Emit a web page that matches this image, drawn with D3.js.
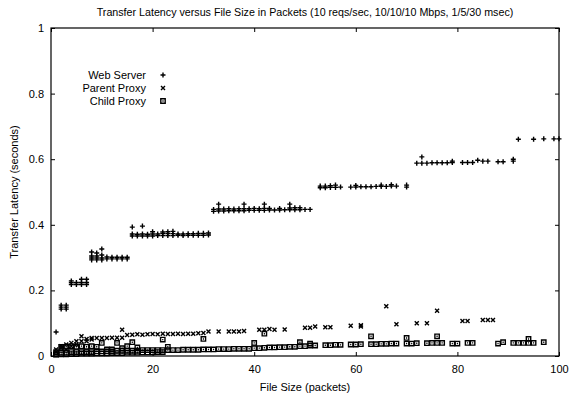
<!DOCTYPE html>
<html>
<head>
<meta charset="utf-8">
<script src="https://cdn.jsdelivr.net/npm/d3@7"></script>
<style>
  body { margin: 0; background: #fff; }
  text { font-family: "Liberation Sans", Arial, Helvetica, sans-serif; font-size: 11px; fill: #000; }
</style>
</head>
<body>
<div id="container"></div>
<script>
// values: [file size (packets), latency (s)]
var webServer = [
  [1,0.073],
  [2,0.143],[2,0.149],[2,0.155],[3,0.143],[3,0.149],[3,0.155],
  [4,0.218],[4,0.224],[4,0.229],[5,0.218],[5,0.224],[6,0.218],[6,0.224],[6,0.234],[7,0.218],[7,0.224],[7,0.234],
  [8,0.293],[8,0.299],[8,0.305],[8,0.317],[9,0.293],[9,0.299],[9,0.305],[9,0.314],
  [10,0.293],[10,0.299],[10,0.308],[10,0.326],[11,0.296],[11,0.302],[12,0.296],[12,0.301],
  [13,0.296],[13,0.301],[14,0.296],[14,0.301],[15,0.296],[15,0.301],
  [16,0.366],[16,0.372],[16,0.393],[17,0.366],[17,0.371],[18,0.366],[18,0.372],[18,0.396],
  [19,0.366],[19,0.371],[20,0.366],[20,0.372],[20,0.379],[21,0.367],[21,0.372],
  [22,0.367],[22,0.373],[22,0.378],[23,0.367],[23,0.373],[23,0.379],[24,0.367],[24,0.373],[24,0.38],
  [25,0.368],[25,0.372],[26,0.367],[26,0.372],[27,0.368],[27,0.373],[28,0.368],[28,0.373],
  [29,0.368],[29,0.374],[30,0.368],[30,0.374],[31,0.369],[31,0.375],
  [32,0.441],[32,0.447],[33,0.442],[33,0.448],[33,0.463],[34,0.442],[34,0.448],[35,0.443],[35,0.449],
  [36,0.443],[36,0.448],[37,0.443],[37,0.449],[38,0.443],[38,0.449],[38,0.463],[39,0.444],[39,0.449],
  [40,0.444],[40,0.45],[41,0.444],[41,0.449],[42,0.444],[42,0.45],[42,0.463],[43,0.445],[43,0.45],
  [44,0.445],[45,0.445],[45,0.45],[46,0.446],[47,0.446],[47,0.451],[47,0.463],
  [48,0.446],[48,0.452],[49,0.446],[49,0.452],[50,0.447],[51,0.447],
  [53,0.513],[53,0.518],[54,0.513],[54,0.518],[55,0.514],[55,0.519],[56,0.514],[56,0.521],[57,0.515],
  [59,0.515],[60,0.515],[60,0.52],[61,0.516],[62,0.516],[63,0.516],[64,0.517],[65,0.517],[65,0.521],
  [66,0.517],[67,0.518],[67,0.522],[68,0.518],[70,0.515],[70,0.521],
  [72,0.588],[73,0.588],[73,0.607],[74,0.588],[75,0.589],[76,0.589],[77,0.589],[78,0.589],[79,0.59],[79,0.594],
  [81,0.59],[82,0.59],[83,0.59],[84,0.597],[85,0.594],[86,0.594],[88,0.592],[89,0.592],
  [91,0.594],[91,0.6],
  [92,0.661],[95,0.661],[97,0.662],[99,0.662],[100,0.662]
];

var parentProxy = [
  [1,0.012],[1,0.02],[2,0.025],[2,0.03],[3,0.035],[3,0.02],[4,0.04],[4,0.03],[5,0.045],[5,0.035],
  [6,0.06],[6,0.045],[7,0.052],[7,0.045],[8,0.055],[8,0.05],[9,0.055],[10,0.055],[11,0.055],
  [12,0.056],[13,0.056],[14,0.08],[14,0.056],[15,0.064],[16,0.065],[17,0.066],[18,0.065],
  [19,0.066],[20,0.067],[21,0.066],[22,0.068],[23,0.067],[24,0.067],[25,0.068],[26,0.067],
  [27,0.068],[28,0.068],[29,0.069],[30,0.07],[31,0.075],[33,0.075],[35,0.075],[36,0.075],
  [37,0.075],[38,0.076],[41,0.08],[42,0.08],[43,0.082],[44,0.08],[46,0.081],
  [50,0.086],[51,0.086],[52,0.09],[54,0.088],[55,0.088],[59,0.092],[61,0.094],[61,0.09],
  [66,0.152],[68,0.097],[72,0.1],[74,0.1],[76,0.138],[81,0.107],[82,0.107],[85,0.11],[86,0.11],[87,0.11]
];

var childProxy = [
  [1,0.005],[1,0.012],[2,0.01],[2,0.028],[3,0.01],[3,0.028],[4,0.012],[4,0.03],[5,0.012],[5,0.028],
  [6,0.012],[6,0.03],[7,0.012],[7,0.028],[8,0.012],[8,0.03],[9,0.014],[9,0.028],[10,0.014],[10,0.04],
  [11,0.014],[11,0.02],[12,0.014],[12,0.02],[13,0.016],[13,0.04],[14,0.016],[14,0.024],[15,0.016],[15,0.03],
  [16,0.016],[16,0.042],[17,0.016],[17,0.026],[18,0.018],[19,0.018],[20,0.018],[21,0.018],
  [22,0.018],[22,0.05],[23,0.018],[23,0.028],[24,0.018],[25,0.018],[26,0.019],[27,0.019],
  [28,0.019],[29,0.019],[30,0.02],[30,0.052],[31,0.02],[32,0.02],[33,0.021],[34,0.021],
  [35,0.021],[36,0.022],[37,0.022],[38,0.022],[39,0.022],[40,0.024],[40,0.04],[41,0.024],
  [42,0.025],[42,0.068],[43,0.026],[44,0.026],[45,0.027],[46,0.027],[47,0.028],[48,0.028],
  [49,0.03],[49,0.042],[50,0.03],[51,0.032],[51,0.038],[52,0.032],[54,0.033],[55,0.033],
  [56,0.034],[57,0.034],[59,0.035],[60,0.035],[61,0.036],
  [63,0.036],[63,0.06],[64,0.036],[65,0.037],[66,0.037],[67,0.038],[68,0.038],
  [70,0.038],[70,0.055],[71,0.038],[72,0.039],[74,0.039],[75,0.04],[76,0.04],[76,0.06],[77,0.04],
  [79,0.038],[80,0.038],[82,0.04],[83,0.04],[88,0.038],[89,0.042],
  [91,0.04],[92,0.04],[93,0.04],[94,0.04],[94,0.052],[95,0.04],[97,0.042],
  // dense band close to zero for small files
  [1,0.004],[2,0.005],[3,0.005],[4,0.006],[5,0.006],[6,0.007],[7,0.007],[8,0.007],[9,0.008],
  [10,0.008],[11,0.008],[12,0.009],[13,0.009],[14,0.009],[15,0.01],[16,0.01],[17,0.01],
  [18,0.011],[19,0.011],[20,0.011],[21,0.012],[22,0.012]
];

var xTicks = [0, 20, 40, 60, 80, 100];
var yTicks = [0, 0.2, 0.4, 0.6, 0.8, 1];
var seriesNames = ["Web Server", "Parent Proxy", "Child Proxy"];

var width = 569, height = 401;
var margin = {top: 28, right: 10, bottom: 45, left: 51};

var svg = d3.select("#container").append("svg")
  .attr("width", width)
  .attr("height", height);

var x = d3.scaleLinear().domain([0, 100]).range([margin.left, width - margin.right]);
var y = d3.scaleLinear().domain([0, 1]).range([height - margin.bottom, margin.top]);

// gnuplot style point shapes
var plusShape = { draw: function (c, s) { var r = 2.5; c.moveTo(-r, 0); c.lineTo(r, 0); c.moveTo(0, -r); c.lineTo(0, r); } };
var crossShape = { draw: function (c, s) { var r = 2; c.moveTo(-r, -r); c.lineTo(r, r); c.moveTo(-r, r); c.lineTo(r, -r); } };
var boxShape = { draw: function (c, s) { var r = 2.2; c.moveTo(-r, -r); c.lineTo(r, -r); c.lineTo(r, r); c.lineTo(-r, r); c.closePath(); c.moveTo(-0.6, 0); c.lineTo(0.6, 0); } };
var shapes = [plusShape, crossShape, boxShape];

// axes with inward ticks, mirrored on top and right
svg.append("g")
  .attr("transform", "translate(0," + y(0) + ")")
  .call(d3.axisBottom(x).tickValues(xTicks).tickSizeInner(-4).tickSizeOuter(0).tickPadding(9).tickFormat(d3.format("d")));
svg.append("g")
  .attr("transform", "translate(0," + y(1) + ")")
  .call(d3.axisTop(x).tickValues(xTicks).tickSizeInner(-4).tickSizeOuter(0).tickFormat(""));
svg.append("g")
  .attr("transform", "translate(" + x(0) + ",0)")
  .call(d3.axisLeft(y).tickValues(yTicks).tickSizeInner(-4).tickSizeOuter(0).tickPadding(7).tickFormat(function (d) { return d === 0 || d === 1 ? d : d3.format(".1f")(d); }));
svg.append("g")
  .attr("transform", "translate(" + x(100) + ",0)")
  .call(d3.axisRight(y).tickValues(yTicks).tickSizeInner(-4).tickSizeOuter(0).tickFormat(""));

svg.selectAll(".domain").remove();
svg.selectAll(".tick line").attr("stroke", "#000");
svg.selectAll(".tick text").style("font-size", "11px").style("font-family", "Liberation Sans, Arial, sans-serif");

svg.append("rect")
  .attr("x", x(0)).attr("y", y(1))
  .attr("width", x(100) - x(0)).attr("height", y(0) - y(1))
  .attr("fill", "none").attr("stroke", "#000").attr("stroke-width", 1.2);

// points
[webServer, parentProxy, childProxy].forEach(function (series, i) {
  svg.append("g").selectAll("path")
    .data(series)
    .enter().append("path")
      .attr("transform", function (d) { return "translate(" + x(d[0]) + "," + y(d[1]) + ")"; })
      .attr("d", d3.symbol().type(shapes[i]))
      .attr("fill", "none")
      .attr("stroke", "#000")
      .attr("stroke-width", 1.4);
});

// legend
seriesNames.forEach(function (name, i) {
  var ly = 75 + i * 13;
  svg.append("text")
    .attr("x", 146).attr("y", ly + 4)
    .attr("text-anchor", "end")
    .text(name);
  svg.append("path")
    .attr("transform", "translate(163," + ly + ")")
    .attr("d", d3.symbol().type(shapes[i]))
    .attr("fill", "none").attr("stroke", "#000").attr("stroke-width", 1.4);
});

// titles
svg.append("text")
  .attr("x", (x(0) + x(100)) / 2).attr("y", 16)
  .attr("text-anchor", "middle")
  .style("font-size", "10.7px")
  .text("Transfer Latency versus File Size in Packets (10 reqs/sec, 10/10/10 Mbps, 1/5/30 msec)");
svg.append("text")
  .attr("x", (x(0) + x(100)) / 2).attr("y", 391)
  .attr("text-anchor", "middle")
  .text("File Size (packets)");
svg.append("text")
  .attr("transform", "translate(18," + (y(0) + y(1)) / 2 + ") rotate(-90)")
  .attr("text-anchor", "middle")
  .text("Transfer Latency (seconds)");
</script>
</body>
</html>
